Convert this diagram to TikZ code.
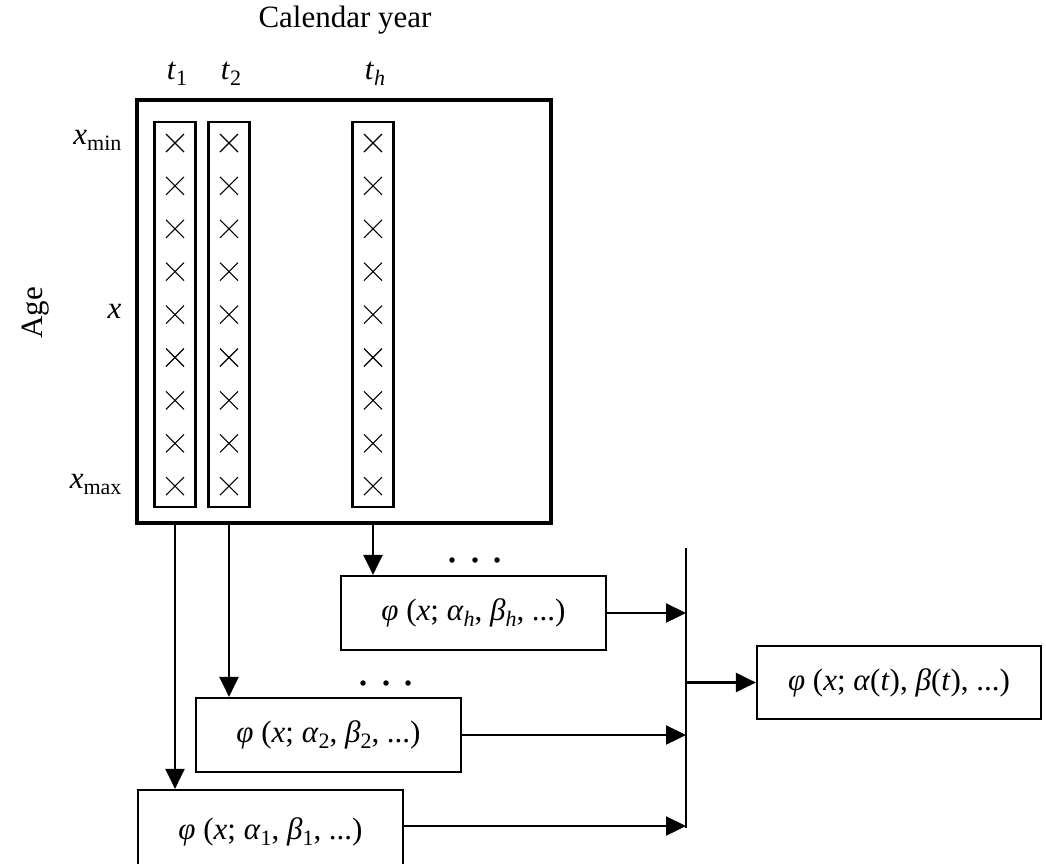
\documentclass[tikz,border=0pt]{standalone}
\usepackage{fontspec}
\setmainfont{Liberation Serif}
\usetikzlibrary{arrows.meta}
\newcommand\sbs[1]{\raisebox{-0.42ex}{\fontsize{22}{25}\selectfont #1}}
\newcommand\ii[1]{\textit{#1}}
\begin{document}
\begin{tikzpicture}[x=1pt,y=-1pt,
  every node/.style={font=\fontsize{31}{36}\selectfont},
  colbox/.style={draw,line width=2.2pt,minimum width=41pt,minimum height=385pt,inner sep=0pt},
  fbox/.style={draw,line width=2.2pt,minimum width=265pt,minimum height=74pt,inner sep=0pt},
  conn/.style={line width=2.3pt,-{Triangle[length=20pt,width=19pt]}},
  dotm/.style={fill,circle,inner sep=0pt,minimum size=5.5pt}
]
\useasboundingbox (0,0) rectangle (1046,863);
\clip (0,0) rectangle (1046,863);
% title and labels
\node (cal) at (345,20) {Calendar year};
\node (t1) at (177,74) {\ii{t}\sbs{1}};
\node (t2) at (231,74) {\ii{t}\sbs{2}};
\node (th) at (375,74) {\ii{t}\sbs{\ii{h}}};
\node[rotate=90] (age) at (36,313) {Age};
\node[anchor=east] (xmin) at (125,140) {\ii{x}\sbs{min}};
\node[anchor=east] (xmid) at (125,311) {\ii{x}};
\node[anchor=east] (xmax) at (125,484) {\ii{x}\sbs{max}};
% big box
\node[draw,line width=4.5pt,minimum width=414pt,minimum height=423pt,inner sep=0pt] (grid) at (344,311.5) {};
% columns
\node[colbox] (c1) at (175,314.5) {};
\node[colbox] (c2) at (229,314.5) {};
\node[colbox] (ch) at (373,314.5) {};
\foreach \cx in {175,229,373}{
  \foreach \k in {0,...,8}{
    \pgfmathsetmacro{\cy}{143+\k*42.9}
    \draw[line width=1.1pt] (\cx-9,\cy-9) -- (\cx+9,\cy+9) (\cx-9,\cy+9) -- (\cx+9,\cy-9);
  }
}
% function boxes
\node[fbox] (fh) at (473.5,613) {\ii{φ} (\ii{x}; \ii{α}\sbs{\ii{h}}, \ii{β}\sbs{\ii{h}}, ...)};
\node[fbox] (f2) at (328.5,735) {\ii{φ} (\ii{x}; \ii{α}\sbs{2}, \ii{β}\sbs{2}, ...)};
\node[fbox,minimum height=84pt] (f1) at (270.5,832) {\raisebox{5pt}{\ii{φ} (\ii{x}; \ii{α}\sbs{1}, \ii{β}\sbs{1}, ...)}};
\node[draw,line width=2.2pt,minimum width=284pt,minimum height=73pt,inner sep=0pt] (fr) at (899,682.5) {\ii{φ} (\ii{x}; \ii{α}(\ii{t}), \ii{β}(\ii{t}), ...)};
% dots
\foreach \dx in {452,475,497}{\node[dotm] at (\dx,560) {};}
\foreach \dx in {363,386,408}{\node[dotm] at (\dx,683) {};}
% vertical collector bar
\coordinate (bt) at (686,548);
\coordinate (bb) at (686,828);
\draw[line width=2.3pt] (bt) -- (bb);
% connectors from columns
\draw[conn] (c1.south |- grid.south) -- (c1.south |- f1.north);
\draw[conn] (c2.south |- grid.south) -- (c2.south |- f2.north);
\draw[conn] (ch.south |- grid.south) -- (ch.south |- fh.north);
% connectors to bar
\draw[conn] (fh.east) -- (fh.east -| bt);
\draw[conn] (f2.east) -- (f2.east -| bt);
\draw[conn] (f1.east |- 0,826) -- (bt |- 0,826);
\draw[conn] (bt |- fr.west) -- (fr.west);
\end{tikzpicture}
\end{document}
